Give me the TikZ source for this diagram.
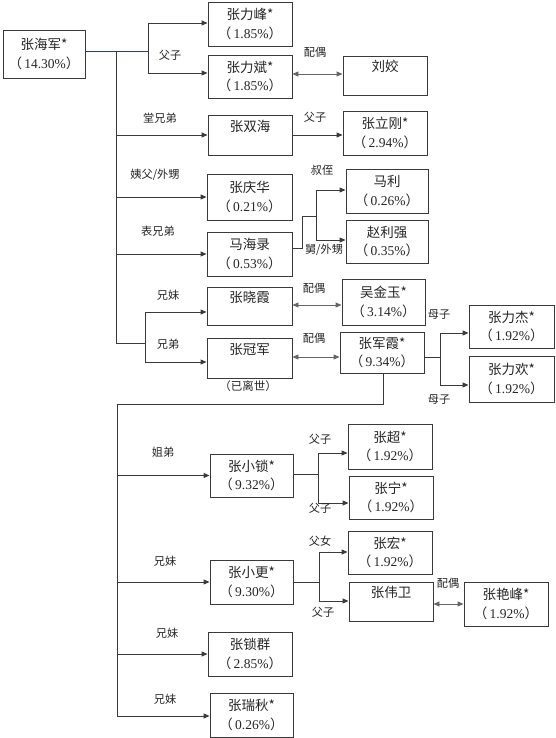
\documentclass[tikz,border=0pt]{standalone}
\usepackage{fontspec}
\setmainfont{Liberation Serif}
\newfontfamily\cjk{Noto Sans CJK SC}
\usetikzlibrary{arrows.meta}
\definecolor{lncol}{HTML}{3A3A3A}
\definecolor{navyln}{HTML}{2B3F7A}
\definecolor{txt}{HTML}{262626}
\newcommand\mypct[1]{{\cjk（}\,#1\%{\cjk）}}
\newcommand\myname[1]{{\cjk #1}}
\tikzset{
  pbox/.style={draw=lncol, line width=0.9pt, minimum width=84pt, minimum height=44pt,
    inner sep=1pt, align=center, font=\fontsize{13.5}{18.5}\selectfont, text=txt},
  rel/.style={font=\cjk\fontsize{11.2}{12}\selectfont, text=txt, inner sep=0pt},
  conn/.style={draw=lncol, line width=0.9pt},
  arr/.style={draw=lncol, line width=0.9pt, -{Triangle[length=6pt,width=5pt]}},
  dbl/.style={draw=black!60, line width=0.9pt, {Triangle[length=6pt,width=5pt]}-{Triangle[length=6pt,width=5pt]}},
}
\begin{document}
\begin{tikzpicture}[x=1pt,y=-1pt]
\useasboundingbox[fill=white] (0,0) rectangle (555,738);

% boxes
\node[pbox, minimum width=82pt, minimum height=48pt] (hj) at (44,54) {\myname{张海军*}\\\mypct{14.30}};
\node[pbox] (lf) at (250,24) {\myname{张力峰*}\\\mypct{1.85}};
\node[pbox, minimum height=43pt] (lb) at (250,76.5) {\myname{张力斌*}\\\mypct{1.85}};
\node[pbox, minimum height=39pt] (lj) at (385,75.5) {\myname{刘姣}\\~};
\node[pbox, minimum height=40pt] (sh) at (250,135) {\myname{张双海}\\~};
\node[pbox] (lg) at (385,133) {\myname{张立刚*}\\\mypct{2.94}};
\node[pbox, minimum width=85pt, minimum height=46pt] (qh) at (249.5,197) {\myname{张庆华}\\\mypct{0.21}};
\node[pbox, minimum width=85pt] (hl) at (249.5,254) {\myname{马海录}\\\mypct{0.53}};
\node[pbox, minimum width=82pt] (ml) at (387,191) {\myname{马利}\\\mypct{0.26}};
\node[pbox, minimum width=82pt, minimum height=43pt] (lq) at (387,241.5) {\myname{赵利强}\\\mypct{0.35}};
\node[pbox, minimum width=85pt, minimum height=38pt] (xx) at (249.5,306) {\myname{张晓霞}\\~};
\node[pbox, minimum width=85pt, minimum height=40pt] (gj) at (249.5,358) {\myname{张冠军}\\~};
\node[pbox, minimum width=83pt, minimum height=46pt] (jy) at (383.5,302) {\myname{吴金玉*}\\\mypct{3.14}};
\node[pbox, minimum height=41pt] (jx) at (382,352.5) {\myname{张军霞*}\\\mypct{9.34}};
\node[pbox, minimum width=85pt, minimum height=43pt] (ljie) at (511.5,326.5) {\myname{张力杰*}\\\mypct{1.92}};
\node[pbox, minimum width=85pt, minimum height=46pt] (lh) at (511.5,379) {\myname{张力欢*}\\\mypct{1.92}};
\node[pbox, minimum width=83pt, minimum height=43pt] (xs) at (251.5,475.5) {\myname{张小锁*}\\\mypct{9.32}};
\node[pbox, minimum height=45pt] (zc) at (390,446.5) {\myname{张超*}\\\mypct{1.92}};
\node[pbox, minimum height=43pt] (zn) at (391,497.5) {\myname{张宁*}\\\mypct{1.92}};
\node[pbox, minimum height=43pt] (zh) at (390,552.5) {\myname{张宏*}\\\mypct{1.92}};
\node[pbox, minimum width=83pt] (xg) at (251.5,582) {\myname{张小更*}\\\mypct{9.30}};
\node[pbox, minimum height=39pt] (ww) at (391,601.5) {\myname{张伟卫}\\~};
\node[pbox] (yf) at (506,604) {\myname{张艳峰*}\\\mypct{1.92}};
\node[pbox] (sq) at (250,654) {\myname{张锁群}\\\mypct{2.85}};
\node[pbox, minimum width=83pt] (rq) at (251.5,715) {\myname{张瑞秋*}\\\mypct{0.26}};
\node[rel, font=\cjk\fontsize{11.5}{12}\selectfont] (gjnote) at (248,386) {（已离世）};

% coordinates
\coordinate (t0) at (116,51);
\coordinate (t1) at (116,343);
\coordinate (b1) at (148,51);
\coordinate (b1a) at (148,23);
\coordinate (b1b) at (148,73);
\coordinate (b2) at (145,343);
\coordinate (b2a) at (145,312);
\coordinate (b2b) at (145,362);
\coordinate (h1) at (302,248);
\coordinate (h2) at (302,216);
\coordinate (h3) at (316,216);
\coordinate (h3a) at (316,190);
\coordinate (h3b) at (316,240);
\coordinate (j1) at (440,357);
\coordinate (j1a) at (440,333);
\coordinate (j1b) at (440,385);
\coordinate (d1) at (383,404);
\coordinate (d2) at (117,404);
\coordinate (d3) at (117,716);
\coordinate (s1) at (318,474);
\coordinate (s1a) at (318,453);
\coordinate (s1b) at (318,503);
\coordinate (g1) at (319,582);
\coordinate (g1a) at (319,552);
\coordinate (g1b) at (319,601);

% top trunk
\draw[navyln, line width=0.9pt] (hj.east |- b1) -- (b1);
\draw[conn] (t0) -- (t1);
\draw[conn] (b1a) -- (b1b);
\draw[arr] (b1a) -- (lf.west |- b1a);
\draw[arr] (b1b) -- (lb.west |- b1b);
\draw[dbl] (lb.east |- 0,74) -- (lj.west |- 0,74);
\draw[arr] (t0 |- sh.west) -- (sh.west);
\draw[arr] (sh.east |- 0,135) -- (lg.west |- 0,135);
\draw[arr] (t0 |- qh.west) -- (qh.west);
\draw[arr] (t0 |- hl.west) -- (hl.west);
\draw[conn] (hl.east |- h1) -- (h1) -- (h2) -- (h3);
\draw[conn] (h3a) -- (h3b);
\draw[arr] (h3a) -- (ml.west |- h3a);
\draw[arr] (h3b) -- (lq.west |- h3b);
\draw[conn] (t1) -- (b2);
\draw[conn] (b2a) -- (b2b);
\draw[arr] (b2a) -- (xx.west |- b2a);
\draw[arr] (b2b) -- (gj.west |- b2b);
\draw[dbl] (xx.east |- 0,305) -- (jy.west |- 0,305);
\draw[dbl] (gj.east |- 0,357) -- (jx.west |- 0,357);
\draw[conn] (jx.east |- j1) -- (j1);
\draw[conn] (j1a) -- (j1b);
\draw[arr] (j1a) -- (ljie.west |- j1a);
\draw[arr] (j1b) -- (lh.west |- j1b);

% lower trunk
\draw[conn] (jx.south -| d1) -- (d1) -- (d2) -- (d3);
\draw[arr] (d2 |- xs.west) -- (xs.west);
\draw[arr] (d2 |- xg.west) -- (xg.west);
\draw[arr] (d2 |- sq.west) -- (sq.west);
\draw[arr] (d3) -- (rq.west |- d3);
\draw[conn] (xs.east |- s1) -- (s1);
\draw[conn] (s1a) -- (s1b);
\draw[arr] (s1a) -- (zc.west |- s1a);
\draw[arr] (s1b) -- (zn.west |- s1b);
\draw[conn] (xg.east |- g1) -- (g1);
\draw[conn] (g1a) -- (g1b);
\draw[arr] (g1a) -- (zh.west |- g1a);
\draw[arr] (g1b) -- (ww.west |- g1b);
\draw[dbl] (ww.east |- 0,604) -- (yf.west |- 0,604);

% relation labels
\node[rel] (r1) at (170,55) {父子};
\node[rel] (r2) at (315,52) {配偶};
\node[rel] (r3) at (160,118) {堂兄弟};
\node[rel] (r4) at (315,117) {父子};
\node[rel] (r5) at (155,175) {姨父/外甥};
\node[rel] (r6) at (322,170) {叔侄};
\node[rel] (r7) at (158,231) {表兄弟};
\node[rel] (r8) at (324,250) {舅/外甥};
\node[rel] (r9) at (168,295) {兄妹};
\node[rel] (r10) at (168,344) {兄弟};
\node[rel] (r11) at (314,288) {配偶};
\node[rel] (r12) at (314,338) {配偶};
\node[rel] (r13) at (439,315) {母子};
\node[rel] (r14) at (439,400) {母子};
\node[rel] (r15) at (163,452) {姐弟};
\node[rel] (r16) at (320,439) {父子};
\node[rel] (r17) at (320,508) {父子};
\node[rel] (r18) at (320,541) {父女};
\node[rel] (r19) at (165,561) {兄妹};
\node[rel] (r20) at (323,612) {父子};
\node[rel] (r21) at (448,583) {配偶};
\node[rel] (r22) at (167,633) {兄妹};
\node[rel] (r23) at (165,699) {兄妹};
\end{tikzpicture}
\end{document}
